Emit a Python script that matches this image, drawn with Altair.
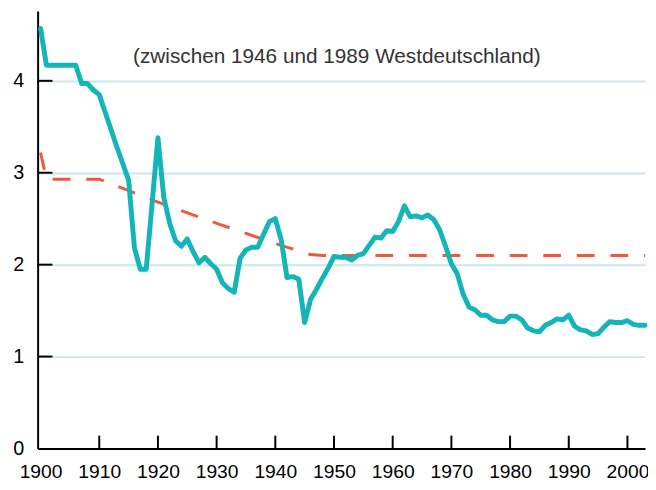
import altair as alt
import pandas as pd

# Teal series: annual values 1900-2003
years = list(range(1900, 2004))
values = [
    4.57, 4.17, 4.17, 4.17, 4.17, 4.17, 4.17, 3.97, 3.97, 3.90,  # 1900-1909
    3.85, 3.66, 3.47, 3.28, 3.10, 2.92, 2.18, 1.95, 1.95, 2.66,  # 1910-1919
    3.38, 2.73, 2.45, 2.26, 2.20, 2.28, 2.14, 2.02, 2.08, 2.01,  # 1920-1929
    1.95, 1.80, 1.74, 1.70, 2.07, 2.16, 2.19, 2.19, 2.33, 2.47,  # 1930-1939
    2.50, 2.27, 1.86, 1.87, 1.84, 1.37, 1.62, 1.73, 1.85, 1.96,  # 1940-1949
    2.09, 2.08, 2.08, 2.05, 2.10, 2.12, 2.21, 2.30, 2.29, 2.37,  # 1950-1959
    2.36, 2.47, 2.64, 2.52, 2.53, 2.51, 2.54, 2.49, 2.38, 2.20,  # 1960-1969
    2.01, 1.90, 1.68, 1.54, 1.51, 1.45, 1.45, 1.40, 1.38, 1.38,  # 1970-1979
    1.44, 1.44, 1.40, 1.31, 1.28, 1.27, 1.34, 1.37, 1.41, 1.40,  # 1980-1989
    1.45, 1.33, 1.29, 1.28, 1.24, 1.25, 1.32, 1.38, 1.37, 1.37,  # 1990-1999
    1.39, 1.35, 1.34, 1.34,                                      # 2000-2003
]

# Red dashed reference series
ref_years = [1900, 1901, 1910, 1920, 1930, 1940, 1946, 1948, 2003]
ref_values = [3.22, 2.93, 2.93, 2.68, 2.45, 2.23, 2.11, 2.10, 2.10]

x_ticks = [1900, 1910, 1920, 1930, 1940, 1950, 1960, 1970, 1980, 1990, 2000]
inner_x_ticks = [1910, 1920, 1930, 1940, 1950, 1960, 1970, 1980, 1990, 2000]
y_ticks = [0, 1, 2, 3, 4]
inner_y_ticks = [1, 2, 3, 4]
note = ["(zwischen 1946 und 1989 Westdeutschland)"]

W, H = 615, 443
FONT = "Liberation Sans"

xscale = alt.Scale(domain=[1899.5, 2003.0], nice=False, zero=False)
yscale = alt.Scale(domain=[0, 4.76], nice=False, zero=False)

x_axis = alt.Axis(values=x_ticks, format="d", ticks=False, grid=False,
                  labelFontSize=19.5, labelFont=FONT, labelColor="black",
                  labelPadding=14, labelFlush=False, title=None,
                  domainColor="black", domainWidth=2)
y_axis = alt.Axis(values=y_ticks, format="d", ticks=False, grid=True,
                  gridColor="#c8e8ea", gridWidth=2, title=None,
                  labelFontSize=20, labelFont=FONT, labelColor="black",
                  labelPadding=14, domainColor="black", domainWidth=2)

main = pd.DataFrame({"year": years, "value": values})
ref = pd.DataFrame({"year": ref_years, "value": ref_values})

teal = alt.Chart(main).mark_line(
    color="#14b5b8", strokeWidth=5, strokeJoin="round", strokeCap="round"
).encode(
    x=alt.X("year:Q", scale=xscale, axis=x_axis),
    y=alt.Y("value:Q", scale=yscale, axis=y_axis),
)

red = alt.Chart(ref).mark_line(
    color="#f0583c", strokeWidth=3, strokeDash=[18, 16]
).encode(
    x=alt.X("year:Q", scale=xscale, axis=x_axis),
    y=alt.Y("value:Q", scale=yscale, axis=y_axis),
)

ytick_rules = alt.Chart(pd.DataFrame({"value": inner_y_ticks})).mark_rule(
    color="black", strokeWidth=2
).encode(
    y=alt.Y("value:Q", scale=yscale, axis=y_axis),
    x=alt.value(0),
    x2=alt.value(15),
)

xtick_rules = alt.Chart(pd.DataFrame({"year": inner_x_ticks})).mark_rule(
    color="black", strokeWidth=2
).encode(
    x=alt.X("year:Q", scale=xscale, axis=x_axis),
    y=alt.value(H),
    y2=alt.value(H - 13),
)

label = alt.Chart(pd.DataFrame({"txt": note})).mark_text(
    font=FONT, fontSize=21, color="#333333", align="center", baseline="middle"
).encode(
    text="txt:N",
    x=alt.value(303),
    y=alt.value(47),
)

chart = alt.layer(ytick_rules, red, teal, xtick_rules, label).properties(
    width=W, height=H,
    autosize=alt.AutoSizeParams(type="none"),
    padding={"left": 30, "top": 0, "right": 3, "bottom": 36},
).configure_view(strokeWidth=0)

chart.save("out.html", embed_options={"renderer": "svg", "actions": False})
